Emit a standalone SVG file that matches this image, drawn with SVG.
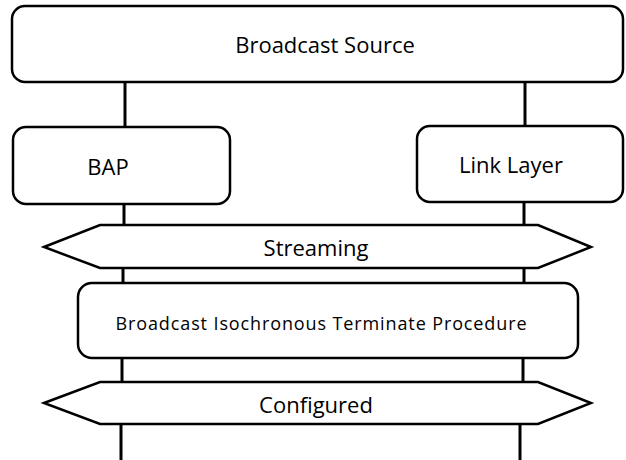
<svg xmlns="http://www.w3.org/2000/svg" width="626" height="460" viewBox="0 0 626 460">
<style>
.box{fill:#fff;stroke:#000;stroke-width:2.5}
.hex{fill:#fff;stroke:#000;stroke-width:2.5;stroke-linejoin:miter}
.life{stroke:#000;stroke-width:3;fill:none}
text{font-family:"Open Sans","Noto Sans",sans-serif;fill:#000;text-anchor:middle}
.t1{font-size:22px}
.t2{font-size:18px}
</style>
<rect width="626" height="460" fill="#fff"/>
<g id="connectors">
<line class="life" x1="125" y1="82" x2="125" y2="127"/>
<line class="life" x1="124" y1="204" x2="124" y2="225"/>
<line class="life" x1="123" y1="268" x2="123" y2="283"/>
<line class="life" x1="122" y1="358" x2="122" y2="382"/>
<line class="life" x1="121" y1="424" x2="121" y2="460"/>
<line class="life" x1="525" y1="82" x2="525" y2="126"/>
<line class="life" x1="524" y1="202" x2="524" y2="225"/>
<line class="life" x1="524" y1="268" x2="524" y2="283"/>
<line class="life" x1="523" y1="358" x2="523" y2="382"/>
<line class="life" x1="520" y1="424" x2="520" y2="460"/>
</g>
<g id="broadcast-source">
<rect class="box" x="12" y="6" width="611" height="76" rx="13"/>
<text class="t1" x="325" y="53">Broadcast Source</text>
</g>
<g id="bap">
<rect class="box" x="13" y="127" width="217" height="77" rx="13"/>
<text class="t1" x="108" y="175">BAP</text>
</g>
<g id="link-layer">
<rect class="box" x="417" y="126" width="206" height="76" rx="13"/>
<text class="t1" x="511" y="173">Link Layer</text>
</g>
<g id="streaming">
<polygon class="hex" points="44,247 100,225 538,225 591,247 538,268 100,268"/>
<text class="t1" x="316" y="256">Streaming</text>
</g>
<g id="terminate">
<rect class="box" x="78" y="283" width="500" height="75" rx="14"/>
<text class="t2" x="321" y="330" textLength="411" lengthAdjust="spacing">Broadcast Isochronous Terminate Procedure</text>
</g>
<g id="configured">
<polygon class="hex" points="44,403 100,382 538,382 591,403 538,424 100,424"/>
<text class="t1" x="316" y="413">Configured</text>
</g>
</svg>
